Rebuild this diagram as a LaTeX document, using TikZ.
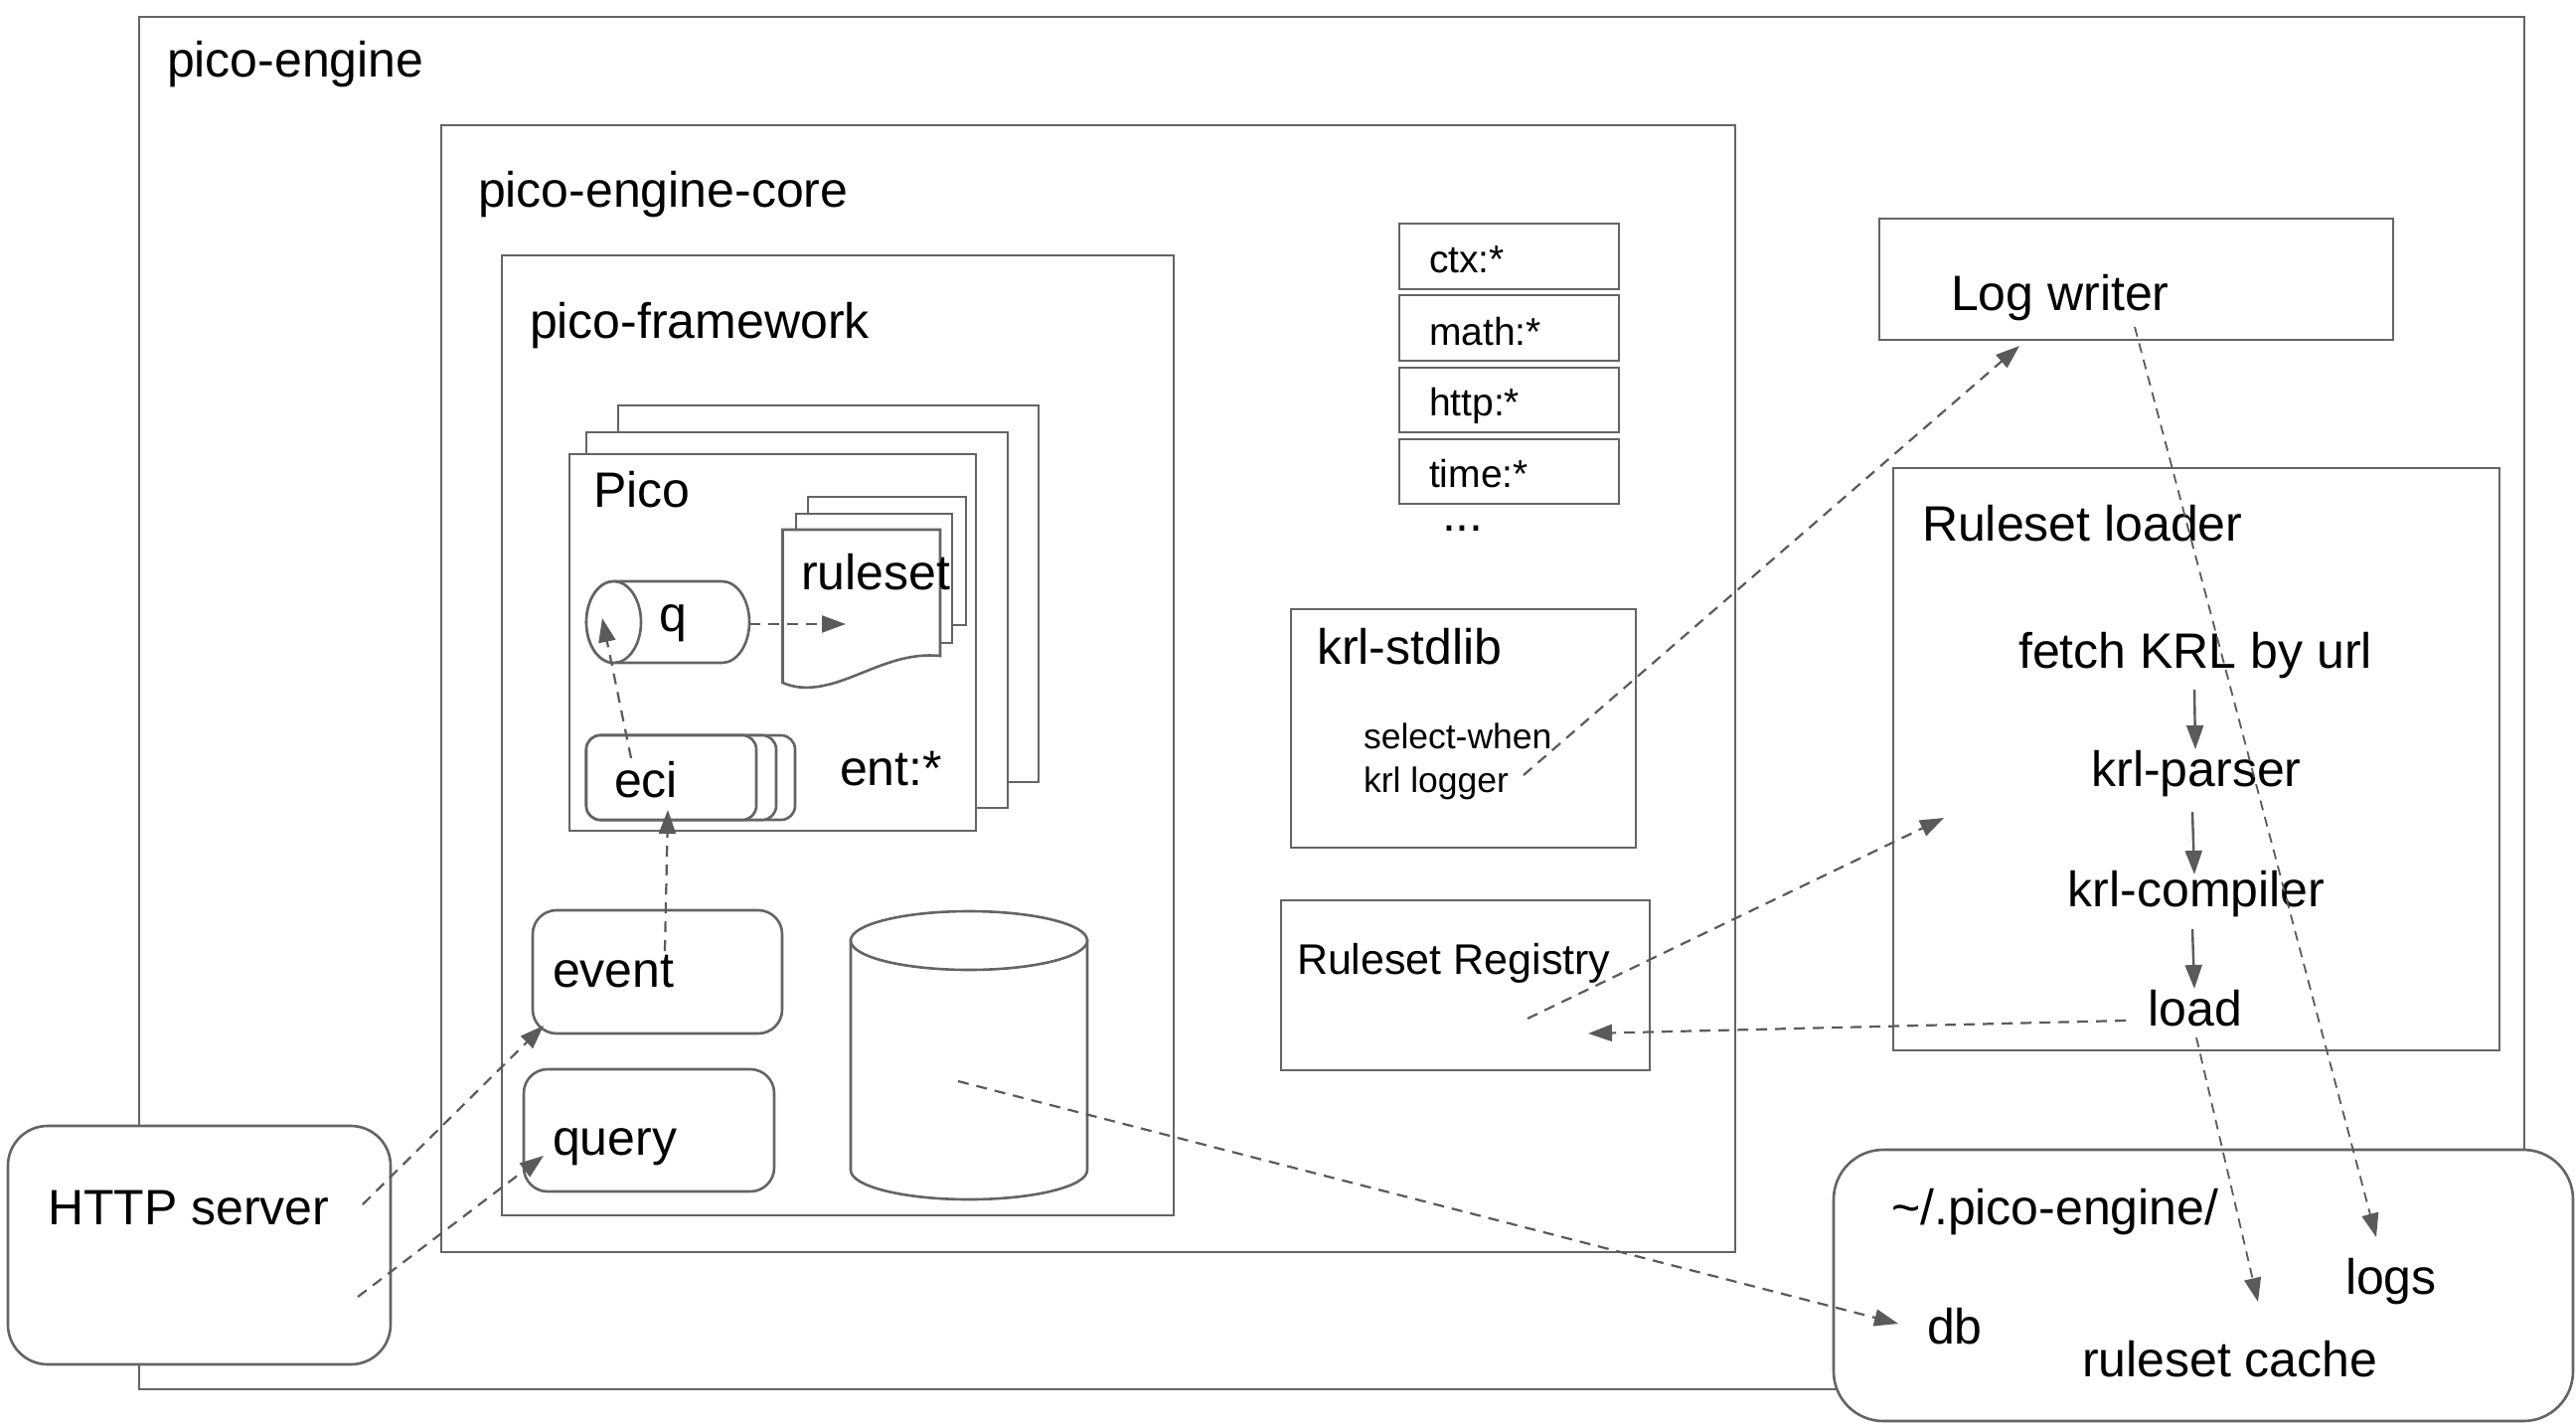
\documentclass[tikz,border=0pt]{standalone}
\usepackage{fontspec}
\setmainfont{Liberation Sans}
\usetikzlibrary{arrows.meta}
\definecolor{lc}{HTML}{646464}
\definecolor{ac}{HTML}{5A5A5A}
\newcommand\fmain{\fontsize{50}{60}\selectfont}
\newcommand\flib{\fontsize{39}{47}\selectfont}
\newcommand\fsmall{\fontsize{35.5}{43}\selectfont}
\newcommand\freg{\fontsize{43}{52}\selectfont}
\newcommand\fdots{\fontsize{50}{60}\selectfont}
\begin{document}
\begin{tikzpicture}[x=1pt,y=-1pt,
  box/.style={draw=lc, line width=2.6pt, fill=white, inner sep=0pt, outer sep=0pt, rectangle, anchor=north west},
  txt/.style={inner sep=0pt, outer sep=0pt, anchor=base west, text=black, font=\fmain},
  ctxt/.style={txt, anchor=base},
  conn/.style={draw=ac, line width=2.2pt, dash pattern=on 11pt off 8pt, -{Triangle[length=24pt,width=17pt]}},
  thinconn/.style={draw=ac, line width=1.8pt, dash pattern=on 10pt off 7pt, -{Triangle[length=24pt,width=17pt]}},
  solidconn/.style={draw=ac, line width=2.4pt, -{Triangle[length=24pt,width=17pt]}},
  shp/.style={draw=lc, line width=2.6pt, fill=white},
]
\fill[white] (0,0) rectangle (2592,1435);
\useasboundingbox (0,0) rectangle (2592,1435);

% containers
\node[box, minimum width=2400pt, minimum height=1381pt] (engine) at (140,17) {};
\node[txt] (engineL) at (168,77) {pico-engine};
\node[box, minimum width=1302pt, minimum height=1134pt] (core) at (444,126) {};
\node[txt] (coreL) at (481,208) {pico-engine-core};
\node[box, minimum width=676pt, minimum height=966pt] (fw) at (505,257) {};
\node[txt] (fwL) at (533,340) {pico-framework};

% pico stack
\node[box, minimum width=423pt, minimum height=379pt] (pico3) at (622,408) {};
\node[box, minimum width=424pt, minimum height=378pt] (pico2) at (590,435) {};
\node[box, minimum width=409pt, minimum height=379pt] (pico1) at (573,457) {};
\node[txt] (picoL) at (597,510) {Pico};

% ruleset documents
\node[box, minimum width=159pt, minimum height=129pt] (rs3) at (813,500) {};
\node[box, minimum width=157pt, minimum height=130pt] (rs2) at (801,517) {};
\path[shp] (787.5,533) -- (946,533) -- (946,660)
  .. controls (915,657) and (890,668) .. (860,680)
  .. controls (835,690) and (810,697) .. (787.5,687) -- cycle;
\node[txt] (rsL) at (806,593) {ruleset};

% q cylinder
\path[shp] (617.5,585) -- (726.5,585)
  arc[start angle=90, end angle=-90, x radius=27.5pt, y radius=41pt]
  -- (617.5,667)
  arc[start angle=270, end angle=90, x radius=27.5pt, y radius=41pt] -- cycle;
\draw[shp] (617.5,626) ellipse [x radius=27.5pt, y radius=41pt];
\node[txt] (qL) at (663,635) {q};

% eci stack
\node[box, rounded corners=14pt, minimum width=210pt, minimum height=85pt] (eci3) at (590,740) {};
\node[box, rounded corners=14pt, minimum width=191pt, minimum height=85pt] (eci2) at (590,740) {};
\node[box, rounded corners=14pt, minimum width=171pt, minimum height=85pt] (eci1) at (590,740) {};
\node[txt] (eciL) at (618,802) {eci};
\node[txt] (entL) at (845,790) {ent:*};

% event / query
\node[box, rounded corners=24pt, minimum width=251pt, minimum height=124pt] (event) at (536,916) {};
\node[txt] (eventL) at (556,993) {event};
\node[box, rounded corners=24pt, minimum width=252pt, minimum height=123pt] (query) at (527,1076) {};
\node[txt] (queryL) at (556,1162) {query};

% database cylinder
\path[shp] (856,946) -- (856,1177.5)
  arc[start angle=180, end angle=360, x radius=119pt, y radius=29.5pt]
  -- (1094,946) -- cycle;
\draw[shp] (975,946.5) ellipse [x radius=119pt, y radius=29.5pt];

% library modules
\node[box, minimum width=221pt, minimum height=66pt] (ctx) at (1408,225) {};
\node[txt, font=\flib] (ctxL) at (1438,274) {ctx:*};
\node[box, minimum width=221pt, minimum height=66pt] (math) at (1408,297) {};
\node[txt, font=\flib] (mathL) at (1438,347) {math:*};
\node[box, minimum width=221pt, minimum height=65pt] (http) at (1408,370) {};
\node[txt, font=\flib] (httpL) at (1438,418) {http:*};
\node[box, minimum width=221pt, minimum height=65pt] (time) at (1408,442) {};
\node[txt, font=\flib] (timeL) at (1438,490) {time:*};
\node[txt, font=\fdots] (dots) at (1451,534) {...};

% krl-stdlib
\node[box, minimum width=347pt, minimum height=240pt] (stdlib) at (1299,613) {};
\node[txt] (stdlibL) at (1325,668) {krl-stdlib};
\node[txt, font=\fsmall] (selL) at (1372,753) {select-when};
\node[txt, font=\fsmall] (logL) at (1372,797) {krl logger};

% Ruleset Registry
\node[box, minimum width=371pt, minimum height=171pt] (reg) at (1289,906) {};
\node[txt, font=\freg] (regL) at (1305,980) {Ruleset Registry};

% Log writer
\node[box, minimum width=517pt, minimum height=122pt] (lw) at (1891,220) {};
\node[txt] (lwL) at (1963,312) {Log writer};

% Ruleset loader
\node[box, minimum width=610pt, minimum height=586pt] (loader) at (1905,471) {};
\node[txt] (loaderL) at (1934,544) {Ruleset loader};
\node[ctxt] (fetch) at (2209,672) {fetch KRL by url};
\node[ctxt] (parser) at (2210,791) {krl-parser};
\node[ctxt] (compiler) at (2210,912) {krl-compiler};
\node[ctxt] (load) at (2209,1032) {load};

% HTTP server
\node[box, rounded corners=40pt, minimum width=385pt, minimum height=240pt] (server) at (8,1133) {};
\node[txt] (serverL) at (48,1232) {HTTP server};

% home directory
\node[box, rounded corners=50pt, minimum width=744pt, minimum height=273pt] (home) at (1845,1157) {};
\node[txt] (homeL) at (1903,1232) {\textasciitilde/.pico-engine/};
\node[txt] (logsL) at (2360,1302) {logs};
\node[txt] (dbL) at (1939,1352) {db};
\node[txt] (cacheL) at (2095,1385) {ruleset cache};

% connector end points
\coordinate (qOut) at (754,628);   \coordinate (rsIn) at (851,628);
\coordinate (eciOut) at (635,763); \coordinate (qIn) at (606,622);
\coordinate (evOut) at (669,957);  \coordinate (eciIn) at (672,815);
\coordinate (srvA) at (365,1212);  \coordinate (evIn) at (547,1032);
\coordinate (srvB) at (360,1305);  \coordinate (qyIn) at (547,1163);
\coordinate (dbOut) at (964,1088); \coordinate (dbIn) at (1910,1332);
\coordinate (lgOut) at (1533,780); \coordinate (lwIn) at (2032,348);
\coordinate (regOut) at (1537,1025); \coordinate (ldIn) at (1956,823);
\coordinate (loadOut) at (2139,1027); \coordinate (regIn) at (1598,1040);
\coordinate (loadDn) at (2210,1044); \coordinate (cacheIn) at (2272,1310);
\coordinate (lwOut) at (2148,329); \coordinate (logsIn) at (2391,1245);
\coordinate (s1a) at (2208,694); \coordinate (s1b) at (2209,754);
\coordinate (s2a) at (2206,817); \coordinate (s2b) at (2208,880);
\coordinate (s3a) at (2206,935); \coordinate (s3b) at (2208,995);

% connectors
\draw[conn] (qOut) -- (rsIn);
\draw[conn] (eciOut) -- (qIn);
\draw[conn] (evOut) -- (eciIn);
\draw[conn] (srvA) -- (evIn);
\draw[conn] (srvB) -- (qyIn);
\draw[conn] (dbOut) -- (dbIn);
\draw[conn] (lgOut) -- (lwIn);
\draw[conn] (regOut) -- (ldIn);
\draw[conn] (loadOut) -- (regIn);
\draw[thinconn] (loadDn) -- (cacheIn);
\draw[thinconn] (lwOut) -- (logsIn);
\draw[solidconn] (s1a) -- (s1b);
\draw[solidconn] (s2a) -- (s2b);
\draw[solidconn] (s3a) -- (s3b);
\end{tikzpicture}
\end{document}
